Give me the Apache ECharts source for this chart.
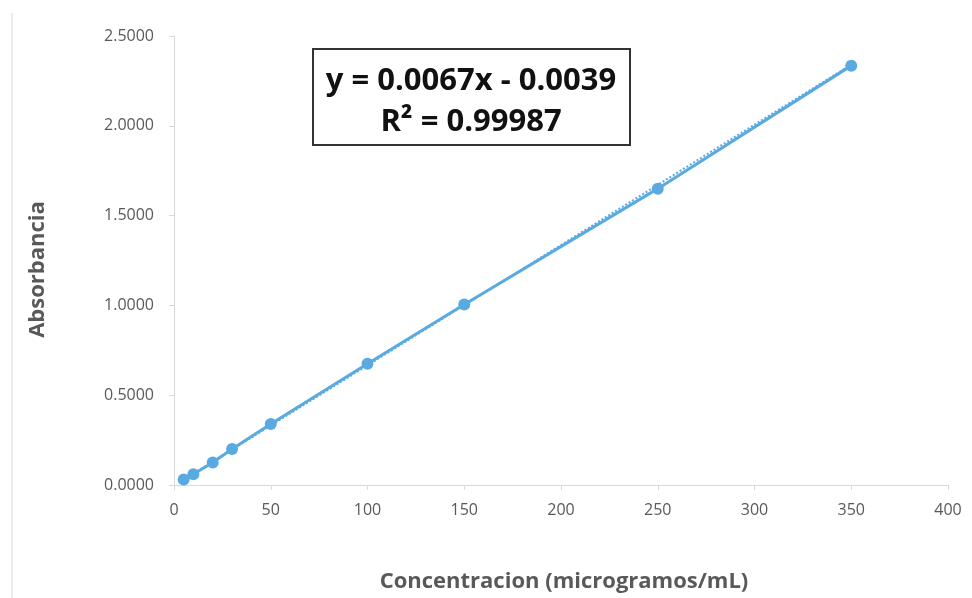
<!DOCTYPE html>
<html>
<head>
<meta charset="utf-8">
<script src="https://cdn.jsdelivr.net/npm/echarts@6/dist/echarts.min.js"></script>
<style>html,body{margin:0;padding:0;background:#fff;}#c{width:972px;height:598px;}</style>
</head>
<body>
<div id="c"></div>
<script>
var concentracion = [5, 10, 20, 30, 50, 100, 150, 250, 350];
var absorbancia = [0.030, 0.060, 0.125, 0.200, 0.340, 0.675, 1.005, 1.650, 2.335];
var trendX = [5, 350];
var trendY = [0.030, 2.341];
var equationText = 'y = 0.0067x - 0.0039';
var r2Text = 'R² = 0.99987';

var chart = echarts.init(document.getElementById('c'));
var pts = concentracion.map(function (x, i) { return [x, absorbancia[i]]; });
var trend = trendX.map(function (x, i) { return [x, trendY[i]]; });
var labelColor = '#595959';
var axisColor = '#d9d9d9';
chart.setOption({
  animation: false,
  backgroundColor: '#fff',
  grid: { left: 174, right: 24, top: 36, bottom: 113, containLabel: false },
  xAxis: {
    type: 'value', min: 0, max: 400, interval: 50,
    name: 'Concentracion (microgramos/mL)', nameLocation: 'middle', nameGap: 86,
    nameTextStyle: { color: labelColor, fontSize: 22, fontWeight: 'bold', fontFamily: 'Open Sans', padding: [0, 0, 0, 6] },
    axisLine: { show: true, lineStyle: { color: axisColor, width: 1 } },
    axisTick: { show: true, length: 5, lineStyle: { color: axisColor } },
    axisLabel: { color: labelColor, fontSize: 16, margin: 17, fontFamily: 'Open Sans' },
    splitLine: { show: false }
  },
  yAxis: {
    type: 'value', min: 0, max: 2.5, interval: 0.5,
    name: 'Absorbancia', nameLocation: 'middle', nameGap: 125, nameRotate: 90,
    nameTextStyle: { color: labelColor, fontSize: 22, fontWeight: 'bold', fontFamily: 'Open Sans', padding: [0, 18, 0, 0] },
    axisLine: { show: true, lineStyle: { color: axisColor, width: 1 } },
    axisTick: { show: true, length: 5, lineStyle: { color: axisColor } },
    axisLabel: { color: labelColor, fontSize: 16, margin: 20, fontFamily: 'Open Sans',
      formatter: function (v) { return v.toFixed(4); } },
    splitLine: { show: false }
  },
  series: [
    {
      type: 'line', data: trend, symbol: 'none',
      lineStyle: { color: '#5AAAE2', width: 2, type: 'dotted' }, z: 1
    },
    {
      type: 'line', data: pts, symbol: 'circle', symbolSize: 12,
      itemStyle: { color: '#5AAAE2' },
      lineStyle: { color: '#5AAAE2', width: 3 }, z: 2
    }
  ],
  graphic: [
    { type: 'line', shape: { x1: 12, y1: 13, x2: 12, y2: 598 }, style: { stroke: '#e6e6e6', lineWidth: 1.5 } },
    { type: 'rect', shape: { x: 313, y: 49, width: 317, height: 96 },
      style: { fill: '#fff', stroke: '#333', lineWidth: 2 }, z: 10 },
    { type: 'text', x: 471, y: 81, z: 11,
      style: { text: equationText, fill: '#111', font: 'bold 31px "Open Sans"', textAlign: 'center', textVerticalAlign: 'middle' } },
    { type: 'text', x: 471, y: 122, z: 11,
      style: { text: r2Text, fill: '#111', font: 'bold 31px "Open Sans"', textAlign: 'center', textVerticalAlign: 'middle' } }
  ]
});
</script>
</body>
</html>
